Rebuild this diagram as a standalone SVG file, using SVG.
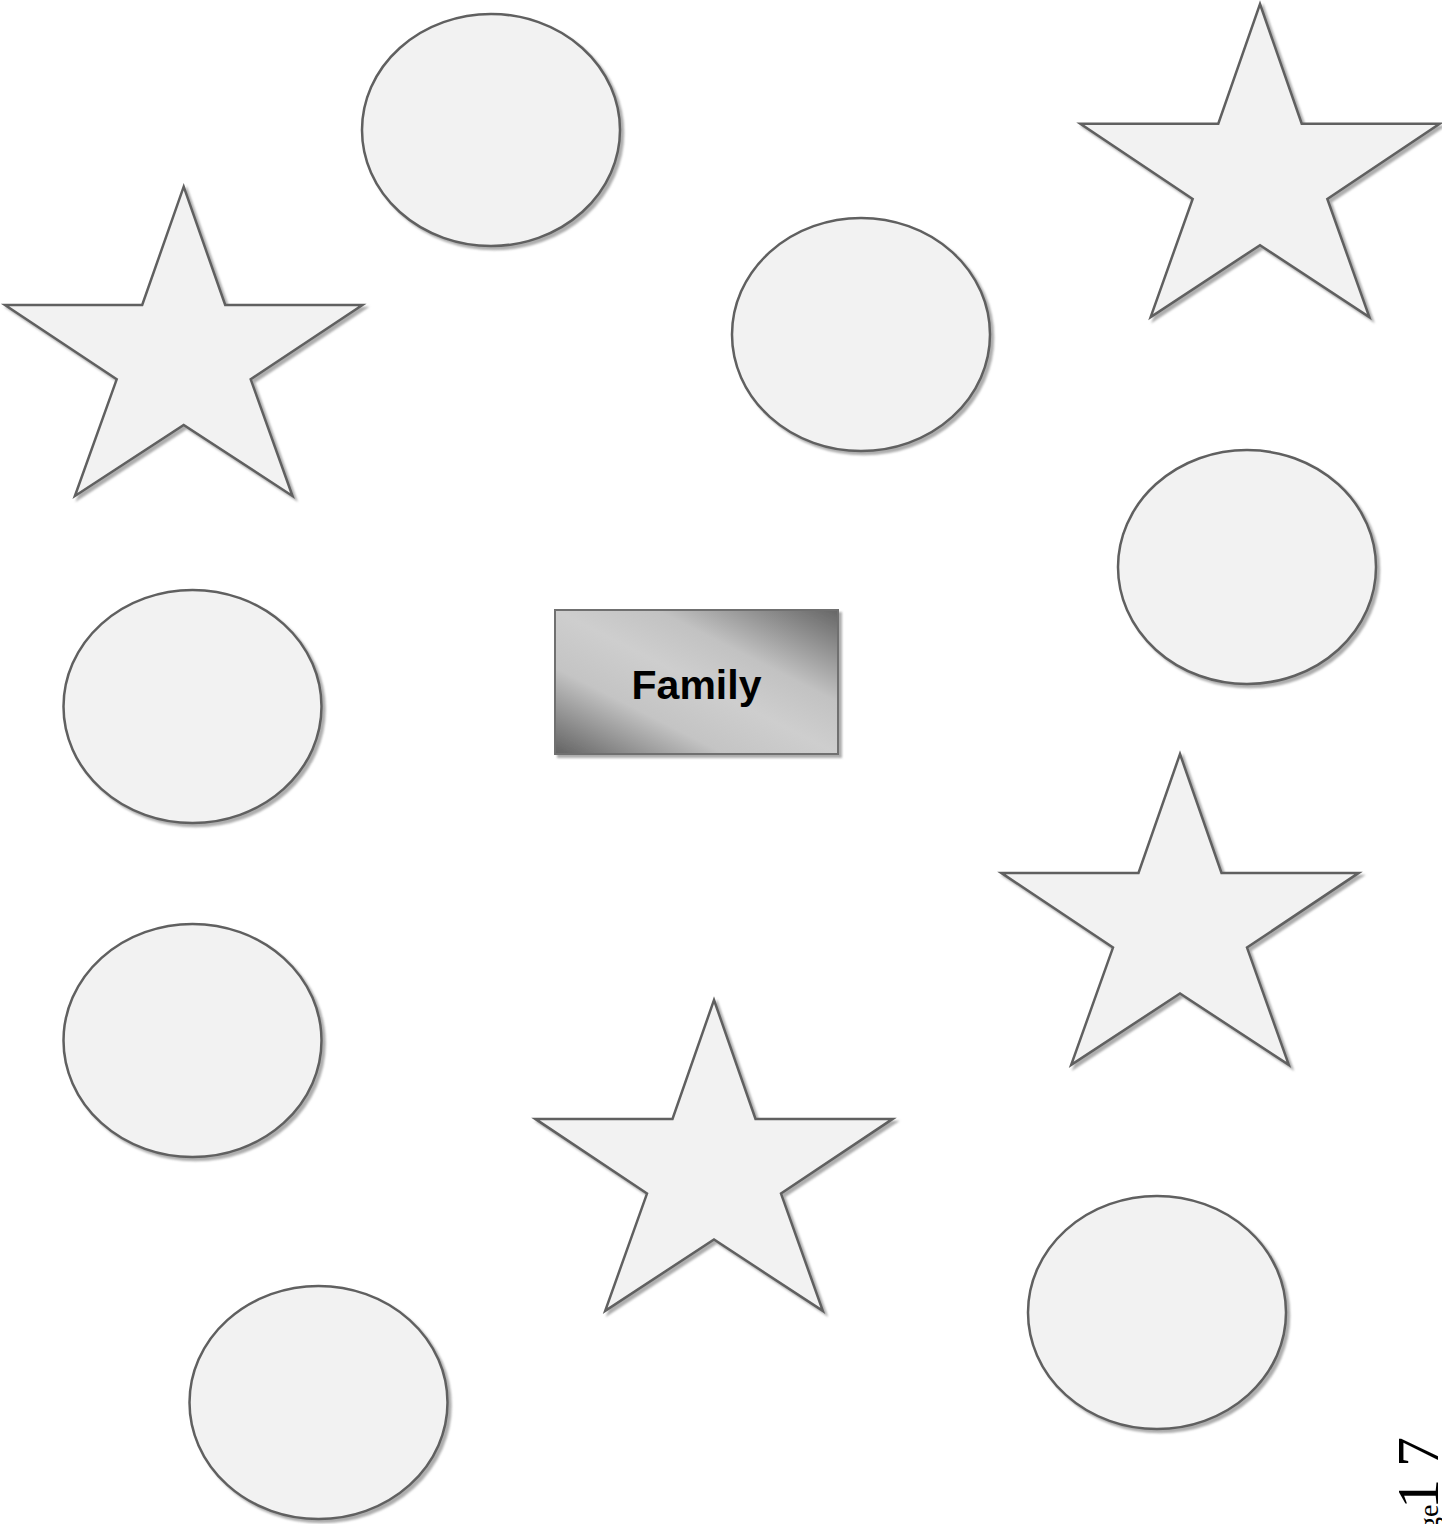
<svg xmlns="http://www.w3.org/2000/svg" xmlns:xlink="http://www.w3.org/1999/xlink" width="1442" height="1524" viewBox="0 0 1442 1524">
<style>
.shape{fill:#f2f2f2;stroke:#606060;stroke-width:2.5;filter:url(#sh)}
.lbl{font-family:"Liberation Sans",Arial,sans-serif;font-weight:bold;font-size:41px;fill:#000}
.pg{font-family:"Liberation Serif","Times New Roman",serif;fill:#000}
</style>
<defs>
<filter id="sh" x="-10%" y="-10%" width="130%" height="130%">
<feDropShadow dx="3" dy="3" stdDeviation="0.8" flood-color="#8a8a8a" flood-opacity="0.7"/>
</filter>
<path id="star" d="M0,0 L41.5,118.3 L178.7,118.3 L67,192.6 L108.8,309.3 L0,238.3 L-108.8,309.3 L-67,192.6 L-178.7,118.3 L-41.5,118.3 Z"/>
<linearGradient id="fam" x1="0" y1="1" x2="1" y2="0">
<stop offset="0" stop-color="#626262"/>
<stop offset="0.3" stop-color="#c4c4c4"/>
<stop offset="0.5" stop-color="#cecece"/>
<stop offset="0.68" stop-color="#c2c2c2"/>
<stop offset="1" stop-color="#666666"/>
</linearGradient>
</defs>
<rect width="1442" height="1524" fill="#ffffff"/>
<g id="connectors"></g>
<g id="circle1"><ellipse class="shape" cx="491" cy="130" rx="129" ry="116"/></g>
<g id="circle2"><ellipse class="shape" cx="861" cy="334.5" rx="129" ry="116.5"/></g>
<g id="circle3"><ellipse class="shape" cx="1247" cy="567" rx="129" ry="117"/></g>
<g id="circle4"><ellipse class="shape" cx="192.5" cy="706.5" rx="129" ry="116.5"/></g>
<g id="circle5"><ellipse class="shape" cx="192.5" cy="1040.5" rx="129" ry="116.5"/></g>
<g id="circle6"><ellipse class="shape" cx="318.5" cy="1402.5" rx="129" ry="116.5"/></g>
<g id="circle7"><ellipse class="shape" cx="1157" cy="1312.5" rx="129" ry="116.5"/></g>
<g id="star1"><use xlink:href="#star" class="shape" transform="translate(183.7,186.7)"/></g>
<g id="star2"><use xlink:href="#star" class="shape" transform="translate(1260,4) scale(1.005,1.012)"/></g>
<g id="star3"><use xlink:href="#star" class="shape" transform="translate(1180,754) scale(1,1.005)"/></g>
<g id="star4"><use xlink:href="#star" class="shape" transform="translate(714,1000) scale(1,1.005)"/></g>
<g id="family">
<rect x="555" y="610" width="283" height="144" fill="url(#fam)" stroke="#707070" stroke-width="2" filter="url(#sh)"/>
<text class="lbl" x="696.5" y="699" text-anchor="middle">Family</text>
</g>
<g id="pagenum" transform="translate(1438,1524) rotate(-90)">
<text class="pg" x="-35" y="0" font-size="28">Page</text>
<text class="pg" x="15" y="0" font-size="60">1</text>
<text class="pg" x="57" y="0" font-size="60">7</text>
</g>
</svg>
